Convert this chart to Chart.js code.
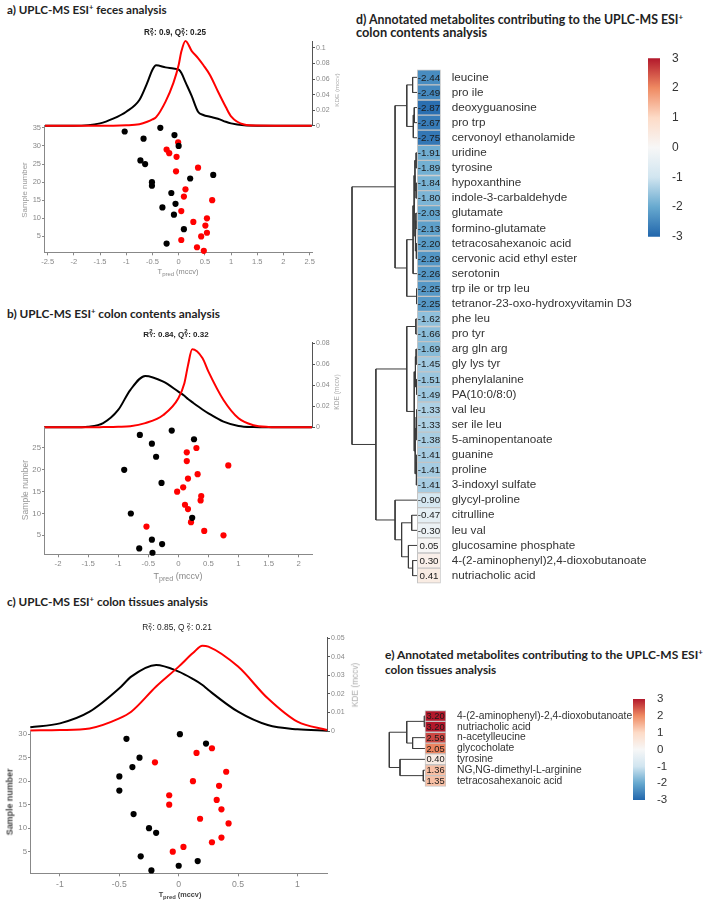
<!DOCTYPE html>
<html>
<head>
<meta charset="utf-8">
<title>UPLC-MS ESI+ OPLS-DA and heatmaps</title>
<script src="https://cdn.jsdelivr.net/npm/chart.js@4.4.1/dist/chart.umd.min.js"></script>
<style>
  html, body { margin: 0; padding: 0; background: #fff; }
  body { position: relative; width: 708px; height: 907px; overflow: hidden; }
  canvas { position: absolute; }
  .lbl { position: absolute; white-space: nowrap; line-height: 1; }
  .st { position: relative; display: inline-block; width: 0.5em; height: 1em; }
  .st .u, .st .d { position: absolute; left: 0.02em; font-size: 0.75em; line-height: 1; }
  .st .u { top: -0.02em; }
  .st .d { top: 0.62em; }
  sub { font-size: 0.8em; vertical-align: -0.35em; line-height: 0; }
  sup { font-size: 0.65em; vertical-align: 0.5em; line-height: 0; }
</style>
</head>
<body>
<script>
// ---------- panel a : feces ----------
const aKdeX     = [-2.55, -2, -1.5, -1.25, -1, -0.75, -0.6, -0.5, -0.43, -0.25, -0.1, 0, 0.05, 0.13, 0.25, 0.37, 0.47, 0.6, 0.75, 0.9, 1, 1.25, 1.5, 2, 2.54];
const aKdeBlack = [0, 0, 0.003, 0.009, 0.018, 0.033, 0.055, 0.072, 0.0776, 0.075, 0.0735, 0.072, 0.068, 0.056, 0.038, 0.018, 0.0138, 0.0115, 0.009, 0.005, 0.003, 0.0005, 0, 0, 0];
const aKdeRed   = [0, 0, 0, 0, 0.0005, 0.002, 0.005, 0.008, 0.011, 0.031, 0.055, 0.078, 0.095, 0.109, 0.096, 0.087, 0.078, 0.065, 0.044, 0.024, 0.012, 0.0015, 0.0002, 0, 0];
const aBlackT = [-1.03, -0.35, -0.67, -0.08, 0.0, -0.73, -0.64, 0.66, 0.22, -0.51, -0.51, -0.14, -0.06, -0.31, -0.09, 0.10, -0.23];
const aBlackN = [34, 35, 32, 33, 30, 26, 25, 22, 21, 20, 19, 17, 14, 13, 11, 7, 3];
const aRedT   = [-0.01, -0.23, -0.18, -0.04, 0.37, -0.05, 0.13, 0.10, 0.64, 0.05, 0.54, 0.28, 0.51, 0.54, 0.43, 0.05, 0.35, 0.48];
const aRedN   = [31, 29, 28, 27, 24, 23, 18, 16, 15, 12, 10, 9, 8, 6, 5, 4, 2, 1];

// ---------- panel b : colon contents ----------
const bKdeX     = [-2.23, -1.75, -1.5, -1.25, -1, -0.8, -0.55, -0.25, 0, 0.1, 0.16, 0.23, 0.4, 0.5, 0.75, 1, 1.25, 1.5, 1.75, 2.22];
const bKdeBlack = [0, 0, 0.0006, 0.004, 0.0165, 0.0355, 0.049, 0.0435, 0.034, 0.030, 0.027, 0.024, 0.017, 0.0133, 0.0054, 0.0013, 0.0002, 0, 0, 0];
const bKdeRed   = [0, 0, 0, 0.0002, 0.0005, 0.001, 0.004, 0.0117, 0.0276, 0.042, 0.059, 0.0743, 0.066, 0.053, 0.026, 0.0086, 0.002, 0.0003, 0, 0];
const bBlackT = [-0.11, -0.64, 0.26, -0.44, -0.37, -0.90, -0.28, -0.79, 0.23, -0.44, -0.27, -0.65, -0.43];
const bBlackN = [29, 28, 27, 26, 23, 20, 17, 10, 9, 4, 3, 2, 1];
const bRedT   = [0.30, 0.14, 0.14, 0.83, 0.32, 0.16, 0.08, -0.02, 0.38, 0.37, 0.11, 0.16, 0.21, -0.53, 0.43, 0.75];
const bRedN   = [25, 24, 22, 21, 19, 18, 16, 15, 14, 13, 12, 11, 8, 7, 6, 5];

// ---------- panel c : colon tissues ----------
const cKdeX     = [-1.25, -1, -0.75, -0.5, -0.4, -0.19, 0, 0.12, 0.2, 0.25, 0.5, 0.75, 1, 1.25];
const cKdeBlack = [0.002, 0.0041, 0.0104, 0.023, 0.0293, 0.0356, 0.032, 0.028, 0.0248, 0.0221, 0.0104, 0.0032, 0.0009, 0.0002];
const cKdeRed   = [0.0003, 0.0005, 0.0014, 0.0068, 0.0104, 0.024, 0.0347, 0.042, 0.046, 0.0455, 0.0347, 0.0176, 0.005, 0.0005];
const cBlackT = [0.01, -0.44, 0.23, -0.33, -0.39, -0.50, -0.50, -0.38, -0.25, -0.19, -0.32, 0.16, 0.0, -0.23];
const cBlackN = [30, 29, 28, 25, 23, 21, 18, 13, 10, 9, 4, 3, 2, 1];
const cRedT   = [0.28, 0.15, -0.20, 0.40, 0.12, 0.34, -0.08, 0.32, -0.08, 0.36, 0.18, 0.42, 0.36, 0.28, 0.04, -0.05];
const cRedN   = [27, 26, 24, 22, 20, 19, 17, 16, 15, 14, 12, 11, 8, 7, 6, 5];

// ---------- panel d : heatmap colon contents ----------
const dNames = ['leucine', 'pro ile', 'deoxyguanosine', 'pro trp', 'cervonoyl ethanolamide', 'uridine', 'tyrosine',
  'hypoxanthine', 'indole-3-carbaldehyde', 'glutamate', 'formino-glutamate', 'tetracosahexanoic acid',
  'cervonic acid ethyl ester', 'serotonin', 'trp ile or trp leu', 'tetranor-23-oxo-hydroxyvitamin D3', 'phe leu',
  'pro tyr', 'arg gln arg', 'gly lys tyr', 'phenylalanine', 'PA(10:0/8:0)', 'val leu', 'ser ile leu',
  '5-aminopentanoate', 'guanine', 'proline', '3-indoxyl sulfate', 'glycyl-proline', 'citrulline', 'leu val',
  'glucosamine phosphate', '4-(2-aminophenyl)2,4-dioxobutanoate', 'nutriacholic acid'];
const dValues = [-2.44, -2.49, -2.87, -2.67, -2.75, -1.91, -1.89, -1.84, -1.80, -2.03, -2.13, -2.20, -2.29, -2.26,
  -2.25, -2.25, -1.62, -1.66, -1.69, -1.45, -1.51, -1.49, -1.33, -1.33, -1.38, -1.41, -1.41, -1.41, -0.90, -0.47,
  -0.30, 0.05, 0.30, 0.41];
// row clustering, hclust style: negative = row (1-based), positive = earlier merge; height in cell widths
const dMerges = [
  [-3, -4, 0.13], [-1, -2, 0.2], [1, -5, 0.17], [2, 3, 0.45],
  [-6, -7, 0.05], [-8, -9, 0.05], [5, 6, 0.1], [-10, -11, 0.06], [-12, -13, 0.04], [8, 9, 0.08],
  [7, 10, 0.14], [11, -14, 0.18], [-15, -16, 0.03], [12, 13, 0.45], [4, 14, 0.95],
  [-17, -18, 0.06], [-19, -20, 0.05], [-21, -22, 0.03], [17, 18, 0.08], [-23, -24, 0.02], [20, -25, 0.05],
  [-26, -27, 0.02], [22, -28, 0.04], [21, 23, 0.09], [19, 24, 0.13], [16, 25, 0.45],
  [-30, -31, 0.24], [-33, -34, 0.2], [-32, 28, 0.38], [27, 29, 0.67], [-29, 30, 0.95],
  [26, 31, 1.77], [15, 32, 2.79]
];

// ---------- panel e : heatmap colon tissues ----------
const eNames = ['4-(2-aminophenyl)-2,4-dioxobutanoate', 'nutriacholic acid', 'n-acetylleucine', 'glycocholate',
  'tyrosine', 'NG,NG-dimethyl-L-arginine', 'tetracosahexanoic acid'];
const eValues = [3.20, 3.20, 2.59, 2.05, 0.40, 1.36, 1.35];
const eMerges = [[-1, -2, 0.03], [-3, -4, 0.59], [1, 2, 0.87], [-6, -7, 0.08], [-5, 4, 1.19], [3, 5, 1.70]];

// colour scale of the heatmaps
const heatStops  = [-3, -2, -1, 0, 1, 2, 3];
const heatColors = ['#2166ac', '#67a9cf', '#d1e5f0', '#f7f7f7', '#fddbc7', '#ef8a62', '#b2182b'];

// ---------- helpers ----------
Chart.defaults.font.family = '"Liberation Sans", Arial, sans-serif';
const common = {
  responsive: false, animation: false, events: [], devicePixelRatio: 1,
  plugins: { legend: { display: false }, tooltip: { enabled: false } }
};
const fmt = v => String(Math.round(v * 1000) / 1000);
// ticks on whole multiples of the step only
const multiplesOf = step => s => {
  const t = [];
  for (let k = Math.ceil(s.min / step - 1e-9); k * step <= s.max + 1e-9; k++) t.push({ value: Math.round(k * step * 1e6) / 1e6 });
  s.ticks = t;
};

function hexRgb(h) { return [1, 3, 5].map(i => parseInt(h.substr(i, 2), 16)); }
function heatColor(v) {
  v = Math.max(-3, Math.min(3, v));
  let k = 0;
  while (k < heatStops.length - 2 && v > heatStops[k + 1]) k++;
  const t = (v - heatStops[k]) / (heatStops[k + 1] - heatStops[k]);
  const a = hexRgb(heatColors[k]), b = hexRgb(heatColors[k + 1]);
  return 'rgb(' + a.map((c, i) => Math.round(c + (b[i] - c) * t)).join(',') + ')';
}

// canvas whose chart area lands on [aL,aT]-[aR,aB]; ax = sizes of the axis boxes, m = outer margins
function place(aL, aT, aR, aB, ax, m) {
  const left = Math.floor(aL - m.l), top = Math.floor(aT - m.t);
  const right = Math.ceil(aR + m.r), bottom = Math.ceil(aB + m.b);
  const c = document.createElement('canvas');
  c.width = right - left; c.height = bottom - top;
  c.style.left = left + 'px'; c.style.top = top + 'px';
  document.body.appendChild(c);
  return { c, pad: { left: aL - ax.l - left, top: aT - ax.t - top, right: right - aR - ax.r, bottom: bottom - aB - ax.b } };
}

function label(html, x, y, o) {
  const d = document.createElement('div');
  d.className = 'lbl';
  d.innerHTML = html;
  d.style.left = x + 'px';
  d.style.top = y + 'px';
  d.style.fontFamily = o.family || '"Liberation Sans", Arial, sans-serif';
  d.style.fontWeight = o.bold ? 'bold' : 'normal';
  d.style.fontSize = o.size + 'px';
  d.style.color = o.color || '#222';
  document.body.appendChild(d);
  if (o.width) d.style.fontSize = (o.size * o.width / d.offsetWidth) + 'px';
  const tx = o.align === 'left' ? '0' : '-50%';
  d.style.transform = 'translate(' + tx + ',-50%)' + (o.rotate ? ' rotate(-90deg)' : '');
  return d;
}

function kdeChart(p, xs, black, red) {
  const axisW = 26;
  const { c, pad } = place(p.L, p.kT, p.R, p.kB, { l: 0, t: 0, r: axisW, b: 0 }, { l: 0, t: 6, r: axisW + 2, b: 6 });
  const curve = (ys, col) => ({
    data: xs.map((x, i) => ({ x, y: ys[i] })), borderColor: col, borderWidth: 2, pointRadius: 0,
    cubicInterpolationMode: 'monotone', fill: false, clip: 8
  });
  new Chart(c, {
    type: 'line',
    data: { datasets: [curve(red, '#ff0000'), curve(black, '#000000')] },
    options: {
      ...common,
      layout: { padding: pad },
      scales: {
        x: { type: 'linear', min: p.xMin, max: p.xMax, display: false },
        y: {
          position: 'right', min: 0, max: p.kMax,
          afterBuildTicks: multiplesOf(p.kStep),
          afterFit: s => { s.width = axisW; },
          border: { color: '#555' },
          grid: { drawOnChartArea: false, color: '#555', tickLength: 3 },
          ticks: { padding: 1, color: '#888', font: { size: p.kFont }, callback: fmt }
        }
      }
    }
  });
}

function scatterChart(p, bT, bN, rT, rN) {
  const yAxisW = 22, xAxisH = 18;
  const { c, pad } = place(p.L, p.kB, p.R, p.sB, { l: yAxisW, t: 0, r: 0, b: xAxisH }, { l: yAxisW, t: 6, r: 10, b: xAxisH });
  const dots = (T, N, col) => ({
    data: T.map((t, i) => ({ x: t, y: N[i] })), backgroundColor: col, borderWidth: 0, pointRadius: 3.1, clip: false
  });
  new Chart(c, {
    type: 'scatter',
    data: { datasets: [dots(bT, bN, '#000000'), dots(rT, rN, '#ff0000')] },
    options: {
      ...common,
      layout: { padding: pad },
      scales: {
        x: {
          type: 'linear', min: p.xMin, max: p.xMax,
          afterBuildTicks: multiplesOf(p.xStep),
          afterFit: s => { s.height = xAxisH; },
          border: { color: '#888' },
          grid: { drawOnChartArea: false, color: '#888', tickLength: 3 },
          ticks: { maxRotation: 0, autoSkip: false, padding: p.xPad, color: '#888', font: { size: p.xFont }, callback: fmt }
        },
        y: {
          type: 'linear', min: p.sMin, max: p.sMax,
          afterBuildTicks: multiplesOf(5),
          afterFit: s => { s.width = yAxisW; },
          border: { color: '#888' },
          grid: { drawOnChartArea: false, color: '#888', tickLength: 2 },
          ticks: { autoSkip: false, padding: 1, color: '#888', font: { size: p.yFont }, callback: fmt }
        }
      }
    }
  });
}

function heatChart(o) {
  const n = o.names.length;
  const aT = o.y0 - o.rowH / 2, aB = o.y0 + (n - 0.5) * o.rowH, aR = o.cellL + o.cellW;
  const { c, pad } = place(o.dendroL, aT, aR, aB, { l: 0, t: 0, r: o.labelW, b: 0 }, { l: 0, t: 4, r: o.labelW, b: 4 });
  const nodes = [];
  const pos = r => r < 0 ? { x: 0, y: -r - 1 } : nodes[r - 1];
  const links = o.merges.map(([a, b, h]) => {
    const pa = pos(a), pb = pos(b);
    nodes.push({ x: -h, y: (pa.y + pb.y) / 2 });
    return {
      type: 'line', data: [{ x: pa.x, y: pa.y }, { x: -h, y: pa.y }, { x: -h, y: pb.y }, { x: pb.x, y: pb.y }],
      borderColor: '#3a3a3a', borderWidth: 1, pointRadius: 0, tension: 0, fill: false, clip: false
    };
  });
  const cells = {
    type: 'bar', data: o.values.map((v, i) => ({ x: [0, 1], y: i })),
    backgroundColor: o.values.map(heatColor), borderColor: '#c4c4c4', borderWidth: 1, borderSkipped: false,
    barPercentage: 1, categoryPercentage: 1
  };
  const cellText = {
    id: 'cellText',
    afterDatasetsDraw(chart) {
      const meta = chart.getDatasetMeta(0);
      const g = chart.ctx;
      g.save();
      g.font = o.numFont + 'px "Liberation Sans", Arial, sans-serif';
      g.fillStyle = '#1a1a1a';
      g.textAlign = 'center';
      g.textBaseline = 'middle';
      meta.data.forEach((el, i) => g.fillText(o.values[i].toFixed(2), (el.x + el.base) / 2, el.y + 0.5));
      g.restore();
    }
  };
  new Chart(c, {
    type: 'bar',
    data: { datasets: [cells, ...links] },
    plugins: [cellText],
    options: {
      ...common,
      indexAxis: 'y',
      layout: { padding: pad },
      scales: {
        x: { type: 'linear', min: -(o.cellL - o.dendroL) / o.cellW, max: 1, display: false },
        y: {
          type: 'linear', position: 'right', reverse: true, min: -0.5, max: n - 0.5,
          afterBuildTicks: s => { s.ticks = o.names.map((_, i) => ({ value: i })); },
          afterFit: s => { s.width = o.labelW; },
          grid: { display: false }, border: { display: false },
          ticks: { autoSkip: false, padding: 3, color: '#333', font: { size: o.labelFont }, callback: v => o.names[v] }
        }
      }
    }
  });
}

function colorBar(o) {
  const labelW = 26;
  const { c, pad } = place(o.x, o.yTop, o.x + o.w, o.yBot, { l: 0, t: 0, r: labelW, b: 0 }, { l: 0, t: 9, r: labelW, b: 9 });
  const lo = heatStops[0], hi = heatStops[heatStops.length - 1];
  new Chart(c, {
    type: 'bar',
    data: {
      labels: [''],
      datasets: [{
        data: [[lo, hi]], borderWidth: 0, barPercentage: 1, categoryPercentage: 1,
        backgroundColor: ctx => {
          const ch = ctx.chart;
          if (!ch.chartArea) return heatColors[3];
          const y = ch.scales.y;
          const g = ch.ctx.createLinearGradient(0, y.getPixelForValue(lo), 0, y.getPixelForValue(hi));
          heatStops.forEach((s, i) => g.addColorStop((s - lo) / (hi - lo), heatColors[i]));
          return g;
        }
      }]
    },
    options: {
      ...common,
      layout: { padding: pad },
      scales: {
        x: { display: false },
        y: {
          position: 'right', min: lo, max: hi,
          afterFit: s => { s.width = labelW; },
          grid: { display: false }, border: { display: false },
          ticks: { stepSize: 1, padding: 4, color: '#333', font: { size: o.font } }
        }
      }
    }
  });
}

// ---------- draw ----------
const pa = { L: 44, R: 312, kT: 41.7, kB: 125.7, sB: 252.3, xMin: -2.57, xMax: 2.545, kMax: 0.108, kStep: 0.02,
  sMin: 0.6, sMax: 35.6, xStep: 0.5, kFont: 7, xFont: 7.5, yFont: 7.5, xPad: 2 };
const pb = { L: 44, R: 312, kT: 342.3, kB: 427.3, sB: 554.3, xMin: -2.233, xMax: 2.221, kMax: 0.081, kStep: 0.02,
  sMin: 0.65, sMax: 29.74, xStep: 0.5, kFont: 7, xFont: 7.8, yFont: 7.8, xPad: 2 };
const pc = { L: 30, R: 327, kT: 637.3, kB: 731, sB: 873.3, xMin: -1.2524, xMax: 1.249, kMax: 0.0505, kStep: 0.01,
  sMin: 0.39, sMax: 30.67, xStep: 0.5, kFont: 7, xFont: 8.7, yFont: 7.8, xPad: 3 };

kdeChart(pa, aKdeX, aKdeBlack, aKdeRed);
scatterChart(pa, aBlackT, aBlackN, aRedT, aRedN);
kdeChart(pb, bKdeX, bKdeBlack, bKdeRed);
scatterChart(pb, bBlackT, bBlackN, bRedT, bRedN);
kdeChart(pc, cKdeX, cKdeBlack, cKdeRed);
scatterChart(pc, cBlackT, cBlackN, cRedT, cRedN);

heatChart({ names: dNames, values: dValues, merges: dMerges, cellL: 417.3, cellW: 23.4, y0: 64.3, rowH: 15.88,
  dendroL: 348, labelW: 212, labelFont: 11.7, numFont: 9.8 });
heatChart({ names: eNames, values: eValues, merges: eMerges, cellL: 425, cellW: 21, y0: 706.7, rowH: 13.9,
  dendroL: 386, labelW: 200, labelFont: 10.3, numFont: 9.3 });
colorBar({ x: 648, w: 12, yTop: 56.5, yBot: 238.5, font: 12 });
colorBar({ x: 633, w: 12, yTop: 697.3, yBot: 801.7, font: 11.5 });

// ---------- text ----------
const TF = 'Lato, "Open Sans", sans-serif';
const sub2Y = '<span class="st"><span class="u">2</span><span class="d">Y</span></span>';
label('a) UPLC-MS ESI<sup>+</sup> feces analysis', 7, 10, { family: TF, bold: true, size: 12, width: 160, align: 'left' });
label('b) UPLC-MS ESI<sup>+</sup> colon contents analysis', 7, 314, { family: TF, bold: true, size: 12, width: 213, align: 'left' });
label('c) UPLC-MS ESI<sup>+</sup> colon tissues analysis', 7, 602, { family: TF, bold: true, size: 12, width: 201, align: 'left' });
label('d) Annotated metabolites contributing to the UPLC-MS ESI<sup>+</sup>', 356, 20, { family: TF, bold: true, size: 12, width: 327, align: 'left' });
label('colon contents analysis', 356, 32, { family: TF, bold: true, size: 12, width: 131, align: 'left' });
label('e) Annotated metabolites contributing to the UPLC-MS ESI<sup>+</sup>', 385, 655, { family: TF, bold: true, size: 12, width: 318, align: 'left' });
label('colon tissues analysis', 385, 670, { family: TF, bold: true, size: 12, width: 112, align: 'left' });

label('R' + sub2Y + ': 0.9, Q' + sub2Y + ': 0.25', 175, 32.3, { bold: true, size: 8, width: 62, color: '#222' });
label('R' + sub2Y + ': 0.84, Q' + sub2Y + ': 0.32', 176, 333.5, { bold: true, size: 8, width: 65, color: '#222' });
label('R' + sub2Y + ': 0.85, Q ' + sub2Y + ': 0.21', 177, 626.7, { size: 8, width: 70, color: '#222' });

label('T<sub>pred</sub> (mccv)', 178, 271.5, { size: 8, width: 41, color: '#888' });
label('T<sub>pred</sub> (mccv)', 178, 575.5, { size: 8, width: 49, color: '#888' });
label('T<sub>pred</sub> (mccv)', 180, 895, { size: 8, bold: true, width: 43, color: '#444' });
label('Sample number', 25, 190, { size: 8, width: 55, color: '#999', rotate: true });
label('Sample number', 25, 490, { size: 8, width: 60, color: '#999', rotate: true });
label('Sample number', 10, 801.7, { size: 8, bold: true, width: 66.7, color: '#444', rotate: true });
label('KDE (mccv)', 336.5, 90, { size: 7, width: 33, color: '#aaa', rotate: true });
label('KDE (mccv)', 336.5, 392, { size: 7, width: 35, color: '#aaa', rotate: true });
label('KDE (mccv)', 355, 685, { size: 7, width: 44, color: '#aaa', rotate: true });
</script>
</body>
</html>
